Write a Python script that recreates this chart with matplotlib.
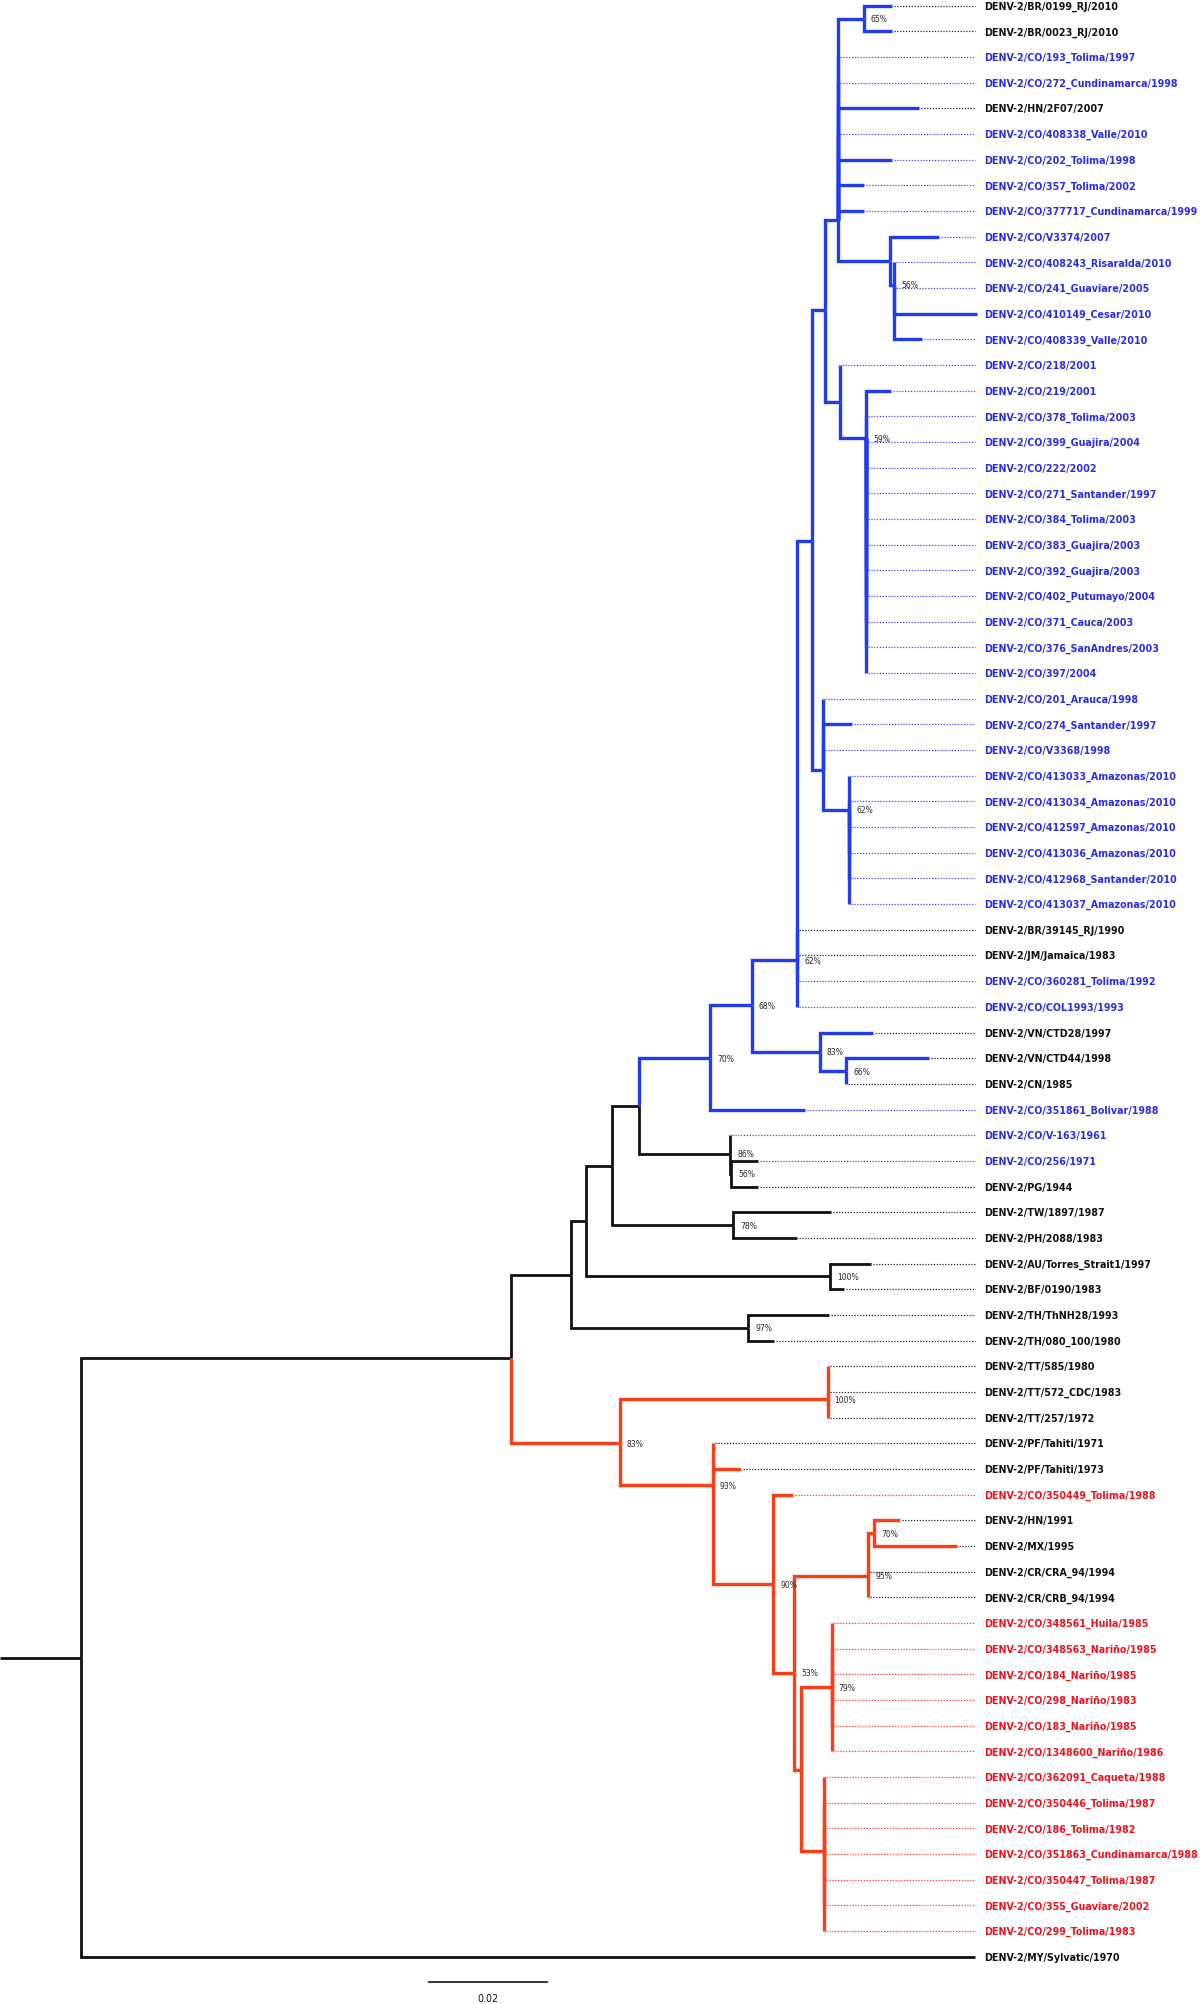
import os
import matplotlib
matplotlib.use("Agg")
import matplotlib.pyplot as plt
from matplotlib import font_manager as fm
from matplotlib.ft2font import FT2Font

# ---------------- tree data (top to bottom leaf order) ----------------
leaf_names = [
    "DENV-2/BR/0199_RJ/2010", "DENV-2/BR/0023_RJ/2010",
    "DENV-2/CO/193_Tolima/1997", "DENV-2/CO/272_Cundinamarca/1998", "DENV-2/HN/2F07/2007",
    "DENV-2/CO/408338_Valle/2010", "DENV-2/CO/202_Tolima/1998", "DENV-2/CO/357_Tolima/2002",
    "DENV-2/CO/377717_Cundinamarca/1999",
    "DENV-2/CO/V3374/2007",
    "DENV-2/CO/408243_Risaralda/2010", "DENV-2/CO/241_Guaviare/2005",
    "DENV-2/CO/410149_Cesar/2010", "DENV-2/CO/408339_Valle/2010",
    "DENV-2/CO/218/2001",
    "DENV-2/CO/219/2001", "DENV-2/CO/378_Tolima/2003", "DENV-2/CO/399_Guajira/2004",
    "DENV-2/CO/222/2002", "DENV-2/CO/271_Santander/1997", "DENV-2/CO/384_Tolima/2003",
    "DENV-2/CO/383_Guajira/2003", "DENV-2/CO/392_Guajira/2003", "DENV-2/CO/402_Putumayo/2004",
    "DENV-2/CO/371_Cauca/2003", "DENV-2/CO/376_SanAndres/2003", "DENV-2/CO/397/2004",
    "DENV-2/CO/201_Arauca/1998", "DENV-2/CO/274_Santander/1997", "DENV-2/CO/V3368/1998",
    "DENV-2/CO/413033_Amazonas/2010", "DENV-2/CO/413034_Amazonas/2010",
    "DENV-2/CO/412597_Amazonas/2010", "DENV-2/CO/413036_Amazonas/2010",
    "DENV-2/CO/412968_Santander/2010", "DENV-2/CO/413037_Amazonas/2010",
    "DENV-2/BR/39145_RJ/1990", "DENV-2/JM/Jamaica/1983",
    "DENV-2/CO/360281_Tolima/1992", "DENV-2/CO/COL1993/1993",
    "DENV-2/VN/CTD28/1997", "DENV-2/VN/CTD44/1998", "DENV-2/CN/1985",
    "DENV-2/CO/351861_Bolivar/1988",
    "DENV-2/CO/V-163/1961", "DENV-2/CO/256/1971", "DENV-2/PG/1944",
    "DENV-2/TW/1897/1987", "DENV-2/PH/2088/1983",
    "DENV-2/AU/Torres_Strait1/1997", "DENV-2/BF/0190/1983",
    "DENV-2/TH/ThNH28/1993", "DENV-2/TH/080_100/1980",
    "DENV-2/TT/585/1980", "DENV-2/TT/572_CDC/1983", "DENV-2/TT/257/1972",
    "DENV-2/PF/Tahiti/1971", "DENV-2/PF/Tahiti/1973",
    "DENV-2/CO/350449_Tolima/1988",
    "DENV-2/HN/1991", "DENV-2/MX/1995",
    "DENV-2/CR/CRA_94/1994", "DENV-2/CR/CRB_94/1994",
    "DENV-2/CO/348561_Huila/1985", "DENV-2/CO/348563_Nariño/1985",
    "DENV-2/CO/184_Nariño/1985", "DENV-2/CO/298_Nariño/1983",
    "DENV-2/CO/183_Nariño/1985", "DENV-2/CO/1348600_Nariño/1986",
    "DENV-2/CO/362091_Caqueta/1988", "DENV-2/CO/350446_Tolima/1987",
    "DENV-2/CO/186_Tolima/1982", "DENV-2/CO/351863_Cundinamarca/1988",
    "DENV-2/CO/350447_Tolima/1987", "DENV-2/CO/355_Guaviare/2002",
    "DENV-2/CO/299_Tolima/1983",
    "DENV-2/MY/Sylvatic/1970",
]

leaf_parent = (["A"] * 2 + ["P1"] * 7 + ["V"] + ["W"] * 4 + ["R"] + ["S"] * 12
               + ["G1"] * 3 + ["G2"] * 6 + ["U"] * 4 + ["I"] + ["J"] * 2 + ["K"]
               + ["M"] + ["M2"] * 2 + ["N"] * 2 + ["P"] * 2 + ["R2"] * 2
               + ["TT"] * 3 + ["RB"] * 2 + ["RC"] + ["RD2"] * 2 + ["RD"] * 2
               + ["RF"] * 6 + ["RG"] * 7 + ["root"])

# terminal branch lengths (substitutions/site)
leaf_branch = ([0.00469, 0.00469, 0, 0, 0.01383, 0, 0.00915, 0.00451, 0.00451,
                0.00836, 0, 0, 0.01397, 0.00464, 0, 0.00424] + [0] * 11
               + [0, 0.00481, 0] + [0] * 6 + [0] * 4
               + [0.00914, 0.01392, 0, 0.01605, 0, 0.00449, 0.00449,
                  0.01659, 0.01071, 0.00692, 0.00229, 0.01366, 0.00437,
                  0, 0, 0, 0, 0.00475, 0.00325, 0.00432, 0.01398, 0, 0]
               + [0] * 6 + [0] * 7 + [0.15149])

node_names = ["root", "Z", "S2", "Q2", "R2", "O", "P", "L", "N", "K", "M", "M2",
              "H", "I", "J", "U", "T", "Q", "G1", "G2", "P1", "A", "V", "W", "R", "S",
              "RA", "TT", "RB", "RC", "RX", "RD", "RD2", "RY", "RF", "RG"]
node_parent = [None, "root", "Z", "S2", "S2", "Q2", "Q2", "O", "O", "L", "L", "M",
               "K", "H", "I", "H", "U", "T", "T", "G1", "Q", "P1", "P1", "V", "Q", "R",
               "Z", "RA", "RA", "RB", "RC", "RX", "RD", "RX", "RY", "RY"]
node_branch = [0.01376, 0.07288, 0.01007, 0.00256, 0.03007, 0.00441, 0.04144, 0.00459,
               0.02064, 0.01210, 0.01549, 0.00022, 0.00705, 0.01149, 0.00456, 0.00771,
               0.00258, 0.00212, 0.00183, 0.00441, 0.00215, 0.00446, 0.00886, 0.00073,
               0.00254, 0.00441, 0.01844, 0.03519, 0.01573, 0.01029, 0.00347, 0.01259,
               0.00105, 0.00119, 0.00520, 0.00390]
# vertical position of each internal node, in leaf rows
node_row = [64.36, 52.69, 49.45, 47.36, 51.5, 45.2, 49.5, 42.86, 47.5, 41.0, 44.73, 45.5,
            38.93, 40.75, 41.5, 37.18, 20.85, 11.86, 29.77, 31.33, 8.35, 0.5, 9.95, 10.88,
            15.43, 16.85, 56.0, 54.28, 57.63, 61.49, 64.94, 61.17, 59.5, 68.73, 65.5, 71.87]
node_support = ["", "", "", "", "97%", "", "100%", "", "78%", "70%", "86%", "56%",
                "68%", "83%", "66%", "62%", "", "", "", "62%", "", "65%", "", "56%",
                "", "59%", "83%", "100%", "93%", "90%", "53%", "95%", "70%", "", "79%", ""]

blue_clade = "K"
red_clade = "RA"
scale_len = 0.02

# ---------------- layout ----------------
PX = 1.0 / 5900          # substitutions/site per pixel
ROW_PX = 25.67
ROW0_PX = 5.7
LEADER_END = 975 * PX
LABEL_X = 984 * PX

BLUE = "#1f3cf2"
RED = "#ff3c14"
BLACK = "#111111"
TXT = {"b": "#2d2de0", "r": "#e8141e", "k": "#111111"}
DOTS = {"b": "#4646e6", "r": "#f03a3a", "k": "#222222"}

LONGEST = "DENV-2/CO/351863_Cundinamarca/1988"
SKIP = ("mono", "math", "symbol", "emoji", "cjk", "display", "serif")


def weight_num(w):
    if isinstance(w, (int, float)):
        return w
    return fm.weight_dict.get(w, 400)


def find_font(names, weight):
    files = {os.path.basename(f.fname): f.fname for f in fm.fontManager.ttflist}
    for n in names:
        if n in files:
            return files[n]
    # otherwise: narrowest proportional sans of this weight
    best, best_r = None, 1e9
    for f in fm.fontManager.ttflist:
        base = os.path.basename(f.fname).lower()
        if f.style != "normal" or weight_num(f.weight) != weight:
            continue
        if any(s in base for s in SKIP) and "sans-" not in base:
            continue
        if "mono" in base:
            continue
        try:
            ft = FT2Font(f.fname)
            if ft.get_char_index(ord("ñ")) == 0 or ft.get_char_index(ord("%")) == 0:
                continue
            ft.set_size(20, 72)
            ft.set_text(LONGEST)
            sw = ft.get_width_height()[0]
            ft.set_text("H")
            hh = ft.get_width_height()[1]
        except Exception:
            continue
        if hh > 0 and sw / hh < best_r:
            best, best_r = f.fname, sw / hh
    return best


bold_file = find_font(["NotoSans-ExtraCondensedBold.ttf", "NotoSans-CondensedBold.ttf",
                       "LiberationSansNarrow-Bold.ttf", "DejaVuSansCondensed-Bold.ttf"], 700)
reg_file = find_font(["NotoSans-ExtraCondensed.ttf", "NotoSans-Condensed.ttf",
                      "LiberationSansNarrow-Regular.ttf", "DejaVuSansCondensed.ttf"], 400)


def fprop(fname, size, bold):
    if fname:
        return fm.FontProperties(fname=fname, size=size)
    return fm.FontProperties(family="DejaVu Sans", size=size,
                             weight="bold" if bold else "normal")


parent = dict(zip(node_names, node_parent))
parent.update(zip(leaf_names, leaf_parent))
branch = dict(zip(node_names, node_branch))
branch.update(zip(leaf_names, leaf_branch))
row = dict(zip(node_names, node_row))
row.update({n: i for i, n in enumerate(leaf_names)})


def depth(n):
    p = parent[n]
    return branch[n] + (depth(p) if p else 0.0)


def in_clade(n, c):
    while n is not None:
        if n == c:
            return True
        n = parent[n]
    return False


def branch_color(n):
    if in_clade(n, blue_clade):
        return BLUE
    if in_clade(n, red_clade):
        return RED
    return BLACK


def label_group(n):
    if "/CO/" not in n:
        return "k"
    return "r" if in_clade(n, red_clade) else "b"


fig = plt.figure(figsize=(12, 20.04), dpi=100)
ax = fig.add_axes([0, 0, 1, 1])
ax.set_xlim(0, 1200 * PX)
ax.set_ylim((2004 - ROW0_PX) / ROW_PX, -ROW0_PX / ROW_PX)
ax.axis("off")
renderer = fig.canvas.get_renderer()


def fit_size(text, fname, bold, target_px):
    t = fig.text(0, 0, text, fontproperties=fprop(fname, 10, bold))
    w = t.get_window_extent(renderer).width
    t.remove()
    return 10.0 * target_px / w


leaf_size = min(fit_size(LONGEST, bold_file, True, 213), 15)
boot_size = min(fit_size("100%", reg_file, False, 22), 10)
scale_size = min(fit_size("0.02", reg_file, False, 21), 11)

# root stub
ax.plot([0, depth("root")], [row["root"]] * 2, color=BLACK, lw=2.0,
        solid_capstyle="butt")

# elbows
for n in node_names[1:] + leaf_names:
    p = parent[n]
    px_, cx = depth(p), depth(n)
    col = branch_color(n)
    lw = 2.0 if col == BLACK else 2.4
    ax.plot([px_, px_, cx], [row[p], row[n], row[n]], color=col, lw=lw,
            solid_joinstyle="miter", solid_capstyle="butt")

# leader lines + tip labels
for n in leaf_names:
    g = label_group(n)
    tip = depth(n)
    if tip < LEADER_END - 3 * PX:
        ax.plot([tip + 2 * PX, LEADER_END], [row[n]] * 2, color=DOTS[g], lw=0.9,
                linestyle=(0, (1, 1.3)))
    ax.text(LABEL_X, row[n], n, color=TXT[g], fontproperties=fprop(bold_file, leaf_size, True),
            va="center_baseline", ha="left")

# bootstrap support
for n, s in zip(node_names, node_support):
    if s:
        ax.text(depth(n) + 7 * PX, row[n], s, color="#2a2a2a",
                fontproperties=fprop(reg_file, boot_size, False),
                va="center_baseline", ha="left")

# scale bar
sb_x = 429.3 * PX
sb_row = (1981.7 - ROW0_PX) / ROW_PX
ax.plot([sb_x, sb_x + scale_len], [sb_row] * 2, color=BLACK, lw=1.2)
ax.text(sb_x + scale_len / 2, (1998 - ROW0_PX) / ROW_PX, "0.02",
        fontproperties=fprop(reg_file, scale_size, False),
        ha="center", va="center_baseline", color=BLACK)

fig.savefig("out.png", dpi=100)
